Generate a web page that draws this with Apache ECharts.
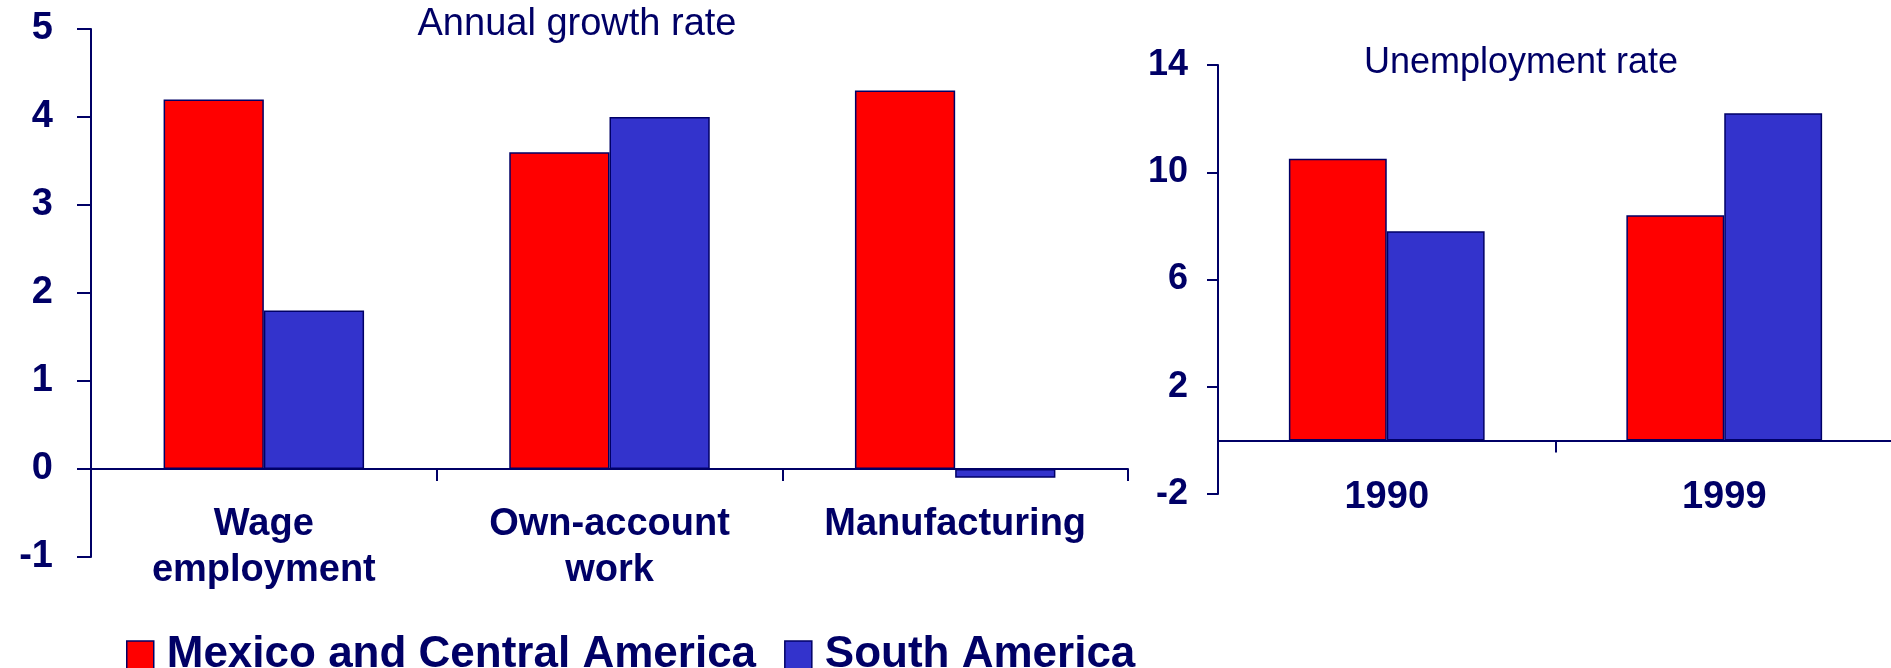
<!DOCTYPE html>
<html>
<head>
<meta charset="utf-8">
<script src="https://cdn.jsdelivr.net/npm/echarts@6/dist/echarts.min.js"></script>
<style>
html,body{margin:0;padding:0;background:#fff;}
#chart{width:1891px;height:668px;}
</style>
</head>
<body>
<div id="chart"></div>
<script>
const growthCategories = ['Wage\nemployment', 'Own-account\nwork', 'Manufacturing'];
const growthMexico = [4.2, 3.6, 4.3];
const growthSouth = [1.8, 4.0, -0.1];
const unempCategories = ['1990', '1999'];
const unempMexico = [10.5, 8.4];
const unempSouth = [7.8, 12.2];
const seriesNames = ['Mexico and Central America', 'South America'];
const titles = ['Annual growth rate', 'Unemployment rate'];

const NAVY = '#000066';
const FONT = 'Liberation Sans, Arial, sans-serif';
const RED = '#FF0000';
const BLUE = '#3333CC';

const chart = echarts.init(document.getElementById('chart'), null, {renderer: 'canvas'});

function yAxis(gridIndex, min, max, interval, margin, tickLen, fontSize) {
  return {
    type: 'value', gridIndex, min, max, interval,
    splitLine: {show: false},
    axisLine: {show: true, lineStyle: {color: NAVY, width: 2}},
    axisTick: {show: true, length: tickLen, lineStyle: {color: NAVY, width: 2}},
    axisLabel: {color: NAVY, fontFamily: FONT, fontWeight: 'bold', fontSize: fontSize, margin: margin}
  };
}
function xAxis(gridIndex, data, margin) {
  return {
    type: 'category', gridIndex, data,
    axisLine: {show: true, onZero: true, lineStyle: {color: NAVY, width: 2}},
    axisTick: {show: true, length: 12, inside: false, lineStyle: {color: NAVY, width: 2}},
    axisLabel: {color: NAVY, fontFamily: FONT, fontWeight: 'bold', fontSize: 38, margin: margin, lineHeight: 46, interval: 0},
    splitLine: {show: false}
  };
}
function bar(name, data, color, xi, yi) {
  return {
    name, type: 'bar', data, xAxisIndex: xi, yAxisIndex: yi,
    barGap: '0%', barCategoryGap: '42%',
    itemStyle: {color: color, borderColor: NAVY, borderWidth: 1.5},
    emphasis: {disabled: true}
  };
}

chart.setOption({
  animation: false,
  backgroundColor: '#ffffff',
  title: [
    {text: titles[0], left: 572, top: 1, textAlign: 'center',
     textStyle: {color: NAVY, fontFamily: FONT, fontWeight: 'normal', fontSize: 38}},
    {text: titles[1], left: 1516, top: 40, textAlign: 'center',
     textStyle: {color: NAVY, fontFamily: FONT, fontWeight: 'normal', fontSize: 36}}
  ],
  legend: {
    left: 121, top: 628,
    itemWidth: 27, itemHeight: 28, itemGap: 28,
    icon: 'rect',
    data: seriesNames,
    textStyle: {color: NAVY, fontFamily: FONT, fontWeight: 'bold', fontSize: 44, padding: [0, 0, 0, 8]},
    itemStyle: {borderColor: NAVY, borderWidth: 1.5}
  },
  grid: [
    {left: 91, top: 29, width: 1037, height: 528, containLabel: false, outerBoundsMode: 'none'},
    {left: 1218, top: 65, width: 675, height: 429, containLabel: false, outerBoundsMode: 'none'}
  ],
  xAxis: [xAxis(0, growthCategories, -55), xAxis(1, unempCategories, -19)],
  yAxis: [yAxis(0, -1, 5, 1, 38, 14, 38), yAxis(1, -2, 14, 4, 30, 11, 36)],
  series: [
    bar(seriesNames[0], growthMexico, RED, 0, 0),
    bar(seriesNames[1], growthSouth, BLUE, 0, 0),
    bar(seriesNames[0], unempMexico, RED, 1, 1),
    bar(seriesNames[1], unempSouth, BLUE, 1, 1)
  ]
});
</script>
</body>
</html>
